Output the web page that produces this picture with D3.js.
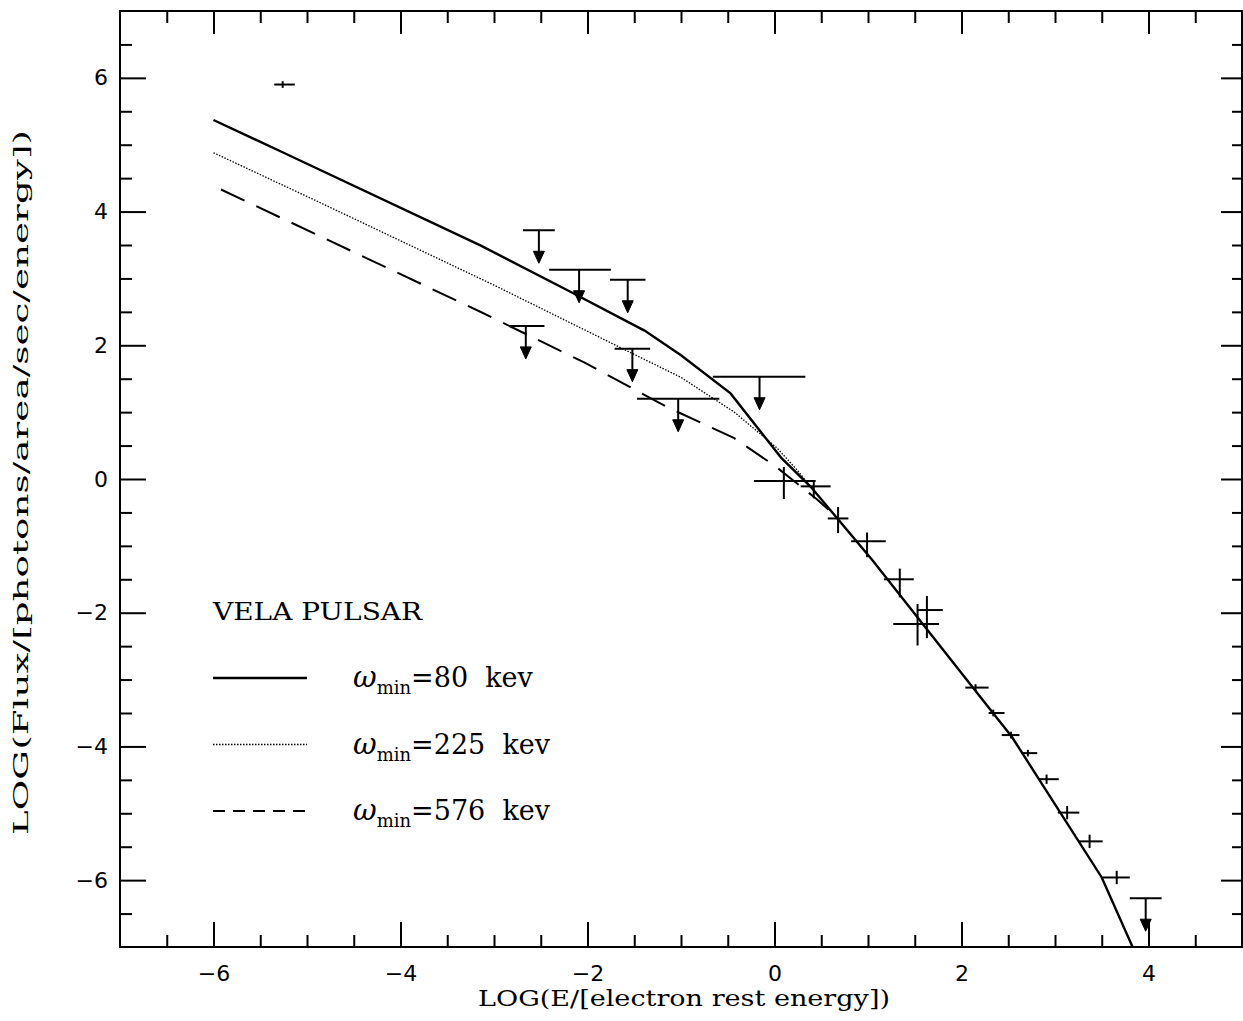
<!DOCTYPE html>
<html>
<head>
<meta charset="utf-8">
<script src="https://cdn.jsdelivr.net/npm/d3@7"></script>
<style>
  body { margin: 0; background: #fff; }
  svg { display: block; }
</style>
</head>
<body>
<div id="chart"></div>
<script>
// model curves (log E, log flux)
var solidX = [-6, -5.25, -3.14, -2.25, -1.39, -1.0, -0.47, 0.07, 0.39, 1.05, 2.06, 2.54, 3.50, 3.83];
var solidY = [5.37, 4.88, 3.49, 2.85, 2.22, 1.85, 1.28, 0.32, -0.12, -1.22, -3.01, -3.86, -5.96, -7.0];
var dottedX = [-6, -4.9, -3.0, -1.64, -1.0, -0.43, 0.03, 0.25, 0.39];
var dottedY = [4.88, 4.16, 2.9, 1.96, 1.52, 1.0, 0.46, 0.12, -0.12];
var dashedX = [-5.92, -3.13, -2.03, -1.14, -0.43, 0.0, 0.45, 0.65];
var dashedY = [4.33, 2.49, 1.74, 1.07, 0.61, 0.2, -0.3, -0.55];

// upper limits
var ulX  = [-2.52, -2.09, -1.57, -2.66, -1.52, -1.03, -0.16, 3.97];
var ulY  = [3.72, 3.13, 2.98, 2.29, 1.95, 1.20, 1.53, -6.27];
var ulLo = [-2.69, -2.41, -1.76, -2.83, -1.71, -1.47, -0.66, 3.80];
var ulHi = [-2.35, -1.75, -1.38, -2.46, -1.33, -0.59, 0.33, 4.14];

// measured points with error bars
var mX  = [-5.26, 0.10, 0.42, 0.68, 0.99, 1.34, 1.63, 1.53, 2.15, 2.34, 2.53, 2.71, 2.91, 3.13, 3.37, 3.66];
var mY  = [5.9, -0.03, -0.11, -0.59, -0.93, -1.5, -1.96, -2.17, -3.12, -3.5, -3.83, -4.1, -4.49, -4.99, -5.42, -5.96];
var mXlo = [-5.35, -0.22, 0.28, 0.57, 0.82, 1.17, 1.53, 1.27, 2.04, 2.29, 2.43, 2.64, 2.82, 3.03, 3.25, 3.51];
var mXhi = [-5.13, 0.44, 0.60, 0.79, 1.19, 1.49, 1.80, 1.76, 2.29, 2.46, 2.62, 2.81, 3.04, 3.26, 3.51, 3.80];
var mYlo = [5.85, -0.30, -0.29, -0.81, -1.17, -1.77, -2.38, -2.49, -3.17, -3.55, -3.88, -4.15, -4.56, -5.09, -5.52, -6.06];
var mYhi = [5.95, 0.18, -0.02, -0.42, -0.80, -1.34, -1.75, -1.87, -3.07, -3.45, -3.78, -4.05, -4.42, -4.89, -5.32, -5.86];

var xTicks = [-6, -4, -2, 0, 2, 4];
var yTicks = [-6, -4, -2, 0, 2, 4, 6];
var legendLabels = ["80", "225", "576"];

var width = 1243, height = 1021;
var padL = 120, padR = 1242, padT = 11, padB = 947;
var serif = "'DejaVu Serif', serif";

var svg = d3.select("#chart").append("svg")
    .attr("width", width)
    .attr("height", height);
svg.append("rect").attr("width", width).attr("height", height).attr("fill", "#fff");

var x = d3.scaleLinear().domain([-7, 5]).range([padL, padR]);
var y = d3.scaleLinear().domain([-7, 7]).range([padB, padT]);

var minorX = d3.range(-6.5, 5, 0.5).filter(function(v){ return v % 2 !== 0; });
var minorY = d3.range(-6.5, 7, 0.5).filter(function(v){ return v % 2 !== 0; });
var fmt = function(d){ return d < 0 ? "\u2212" + (-d) : d; };

function styleAxis(g, fontSize) {
  g.select(".domain").remove();
  g.selectAll(".tick line").attr("stroke", "#000").attr("stroke-width", 2);
  g.selectAll(".tick text")
    .attr("font-family", "'DejaVu Sans', sans-serif")
    .attr("font-size", fontSize)
    .attr("fill", "#000");
}

// bottom
svg.append("g").attr("transform", "translate(0," + padB + ")")
  .call(d3.axisTop(x).tickValues(xTicks).tickSize(25).tickFormat(fmt))
  .call(function(g){ styleAxis(g, 22); })
  .call(function(g){ g.selectAll(".tick text").attr("y", 34).attr("dy", 0); });
svg.append("g").attr("transform", "translate(0," + padB + ")")
  .call(d3.axisTop(x).tickValues(minorX).tickSize(12).tickFormat(""))
  .call(function(g){ styleAxis(g, 0); });
// top
svg.append("g").attr("transform", "translate(0," + padT + ")")
  .call(d3.axisBottom(x).tickValues(xTicks).tickSize(23).tickFormat(""))
  .call(function(g){ styleAxis(g, 0); });
svg.append("g").attr("transform", "translate(0," + padT + ")")
  .call(d3.axisBottom(x).tickValues(minorX).tickSize(12).tickFormat(""))
  .call(function(g){ styleAxis(g, 0); });
// left
svg.append("g").attr("transform", "translate(" + padL + ",0)")
  .call(d3.axisRight(y).tickValues(yTicks).tickSize(26).tickFormat(fmt))
  .call(function(g){ styleAxis(g, 22); })
  .call(function(g){ g.selectAll(".tick text").attr("x", -12).attr("text-anchor", "end"); });
svg.append("g").attr("transform", "translate(" + padL + ",0)")
  .call(d3.axisRight(y).tickValues(minorY).tickSize(12).tickFormat(""))
  .call(function(g){ styleAxis(g, 0); });
// right
svg.append("g").attr("transform", "translate(" + padR + ",0)")
  .call(d3.axisLeft(y).tickValues(yTicks).tickSize(21).tickFormat(""))
  .call(function(g){ styleAxis(g, 0); });
svg.append("g").attr("transform", "translate(" + padR + ",0)")
  .call(d3.axisLeft(y).tickValues(minorY).tickSize(10).tickFormat(""))
  .call(function(g){ styleAxis(g, 0); });

// frame
svg.append("rect")
  .attr("x", padL).attr("y", padT)
  .attr("width", padR - padL).attr("height", padB - padT)
  .attr("fill", "none").attr("stroke", "#000").attr("stroke-width", 2);

// curves
var line = d3.line().x(function(d){ return x(d[0]); }).y(function(d){ return y(d[1]); });
function pairs(xs, ys){ return xs.map(function(v, i){ return [v, ys[i]]; }); }

svg.append("path").datum(pairs(solidX, solidY))
  .attr("d", line).attr("fill", "none").attr("stroke", "#000").attr("stroke-width", 2.4);
svg.append("path").datum(pairs(dottedX, dottedY))
  .attr("d", line).attr("fill", "none").attr("stroke", "#000").attr("stroke-width", 1.3)
  .attr("stroke-dasharray", "1.5,1.5");
svg.append("path").datum(pairs(dashedX, dashedY))
  .attr("d", line).attr("fill", "none").attr("stroke", "#000").attr("stroke-width", 2)
  .attr("stroke-dasharray", "26,13");

// upper limits
var ul = svg.append("g").attr("stroke", "#000").attr("stroke-width", 2);
ulX.forEach(function(v, i){
  var cx = x(v), cy = y(ulY[i]);
  ul.append("line").attr("x1", x(ulLo[i])).attr("x2", x(ulHi[i])).attr("y1", cy).attr("y2", cy);
  ul.append("line").attr("x1", cx).attr("x2", cx).attr("y1", cy).attr("y2", cy + 22);
  ul.append("path")
    .attr("d", "M" + (cx - 5.5) + "," + (cy + 21) + "L" + (cx + 5.5) + "," + (cy + 21) + "L" + cx + "," + (cy + 33) + "Z")
    .attr("fill", "#000").attr("stroke-width", 1);
});

// measurements
var ms = svg.append("g").attr("stroke", "#000").attr("stroke-width", 2);
mX.forEach(function(v, i){
  var cx = x(v), cy = y(mY[i]);
  ms.append("line").attr("x1", x(mXlo[i])).attr("x2", x(mXhi[i])).attr("y1", cy).attr("y2", cy);
  ms.append("line").attr("x1", cx).attr("x2", cx).attr("y1", y(mYlo[i])).attr("y2", y(mYhi[i]));
});

// axis titles
svg.append("text")
  .attr("x", 478).attr("y", 1006)
  .attr("textLength", 412).attr("lengthAdjust", "spacingAndGlyphs")
  .attr("font-family", serif)
  .attr("font-size", 22)
  .text("LOG(E/[electron rest energy])");
svg.append("text")
  .attr("transform", "translate(28,835) rotate(-90)")
  .attr("textLength", 705).attr("lengthAdjust", "spacingAndGlyphs")
  .attr("font-family", serif)
  .attr("font-size", 21)
  .text("LOG(Flux/[photons/area/sec/energy])");

// legend
svg.append("text")
  .attr("x", 213).attr("y", 620)
  .attr("textLength", 209).attr("lengthAdjust", "spacingAndGlyphs")
  .attr("font-family", serif)
  .attr("font-size", 24)
  .text("VELA PULSAR");

var legendDash = [null, "1.5,1.5", "12,8"];
var legendWidth = [2.4, 1.3, 2];
legendLabels.forEach(function(lbl, i){
  var ly = 678 + i * 66.5;
  svg.append("line")
    .attr("x1", 213).attr("x2", 307).attr("y1", ly).attr("y2", ly)
    .attr("stroke", "#000").attr("stroke-width", legendWidth[i])
    .attr("stroke-dasharray", legendDash[i]);
  var t = svg.append("text")
    .attr("x", 353).attr("y", ly + 9)
    .attr("font-family", serif)
    .attr("font-size", 27);
  t.append("tspan").attr("font-style", "italic").attr("font-size", 29).text("\u03c9");
  t.append("tspan").attr("font-size", 18).attr("dy", 7).text("min");
  t.append("tspan").attr("dy", -7)
    .attr("xml:space", "preserve").text("=" + lbl + "  kev");
});
</script>
</body>
</html>
